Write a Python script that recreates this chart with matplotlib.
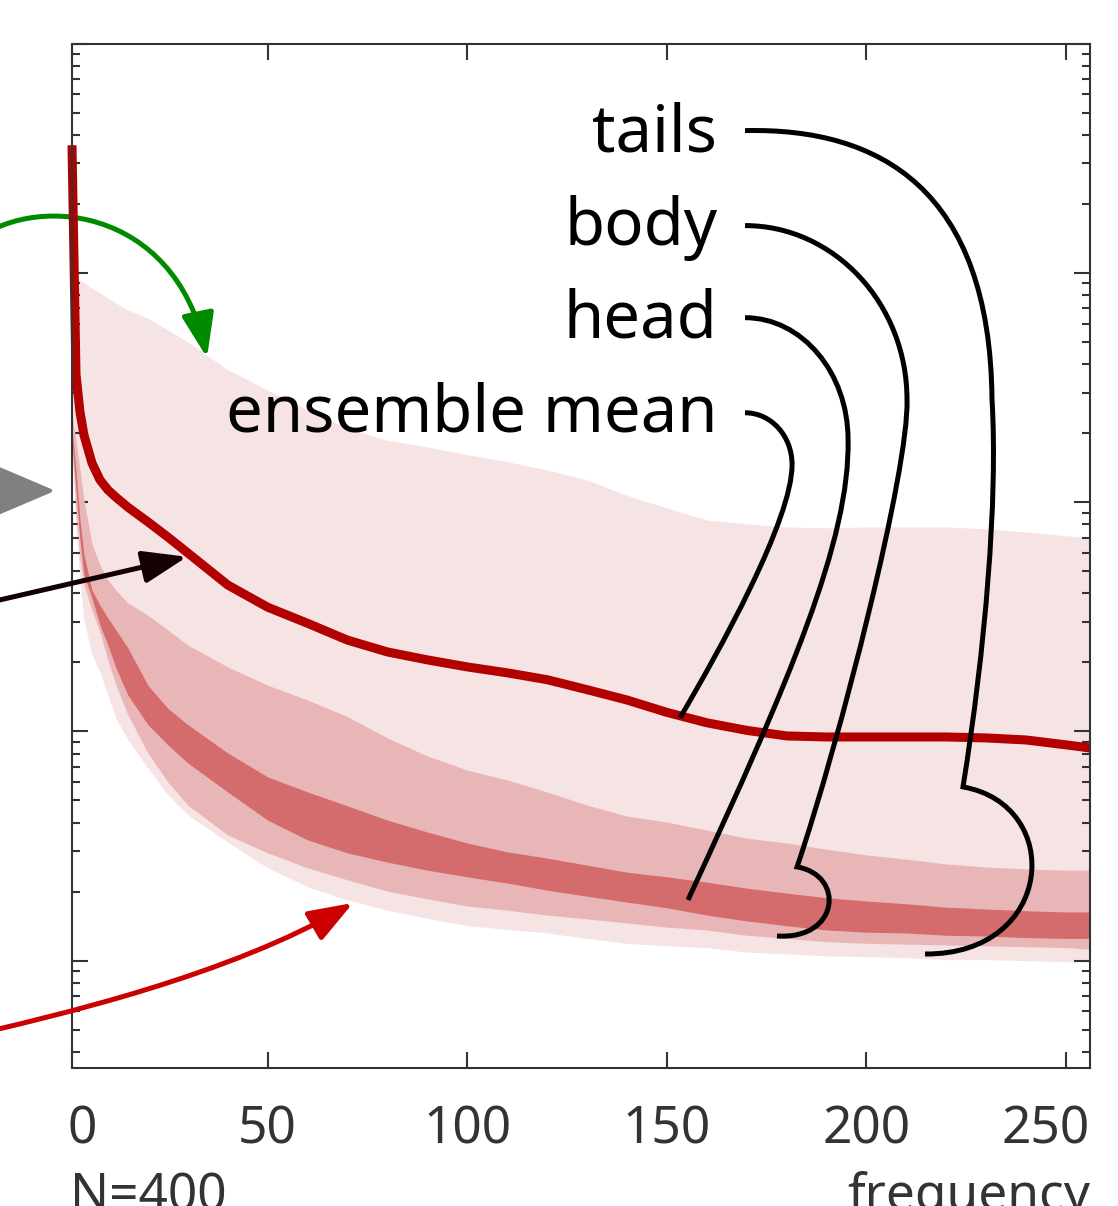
import numpy as np
import matplotlib
matplotlib.use("Agg")
import matplotlib.pyplot as plt
import matplotlib.transforms as mtransforms
from matplotlib.path import Path
from matplotlib.patches import FancyArrowPatch, PathPatch, Polygon
from matplotlib.ticker import LogLocator, NullFormatter, FixedLocator

plt.rcParams['font.family'] = ['Noto Sans', 'DejaVu Sans']

# ensemble spectra, N=400 members
freq = [1, 2, 3, 4, 6, 8, 10, 12, 15, 20, 25, 30, 40, 50, 60, 70, 80, 90, 100,
        110, 120, 130, 140, 150, 160, 170, 180, 190, 200, 210, 220, 230, 240,
        250, 256]
ens_mean = [3600, 360, 247, 196, 148, 125, 113, 105, 95, 82, 70.4, 60.0, 43.5,
            34.8, 29.6, 25.0, 22.2, 20.5, 19.1, 18.0, 16.8, 15.2, 13.7, 12.1,
            10.9, 10.1, 9.55, 9.45, 9.45, 9.45, 9.45, 9.36, 9.17, 8.73, 8.46]
tails_hi = [1000, 968, 930, 903, 858, 816, 776, 738, 688, 635, 563, 499, 378,
            308, 252, 210, 186, 174, 161, 150, 138, 125, 107, 94.2, 83.5, 80.3,
            77.9, 77.2, 77.9, 77.9, 77.9, 76.4, 74.1, 71.3, 69.9]
body_hi = [240, 186, 138, 102, 65.6, 53.2, 45.7, 41.3, 36.3, 32.1, 27.7, 23.8,
           19.1, 15.9, 13.7, 11.6, 9.36, 7.81, 6.78, 6.14, 5.44, 4.77, 4.27,
           4.02, 3.71, 3.42, 3.26, 3.06, 2.89, 2.77, 2.64, 2.56, 2.51, 2.48, 2.48]
head_hi = [206, 138, 83.5, 58.8, 41.3, 35.5, 31.2, 27.7, 23.1, 15.9, 12.6,
           10.7, 8.05, 6.33, 5.44, 4.73, 4.10, 3.64, 3.26, 2.98, 2.80, 2.61,
           2.43, 2.32, 2.20, 2.07, 1.97, 1.88, 1.82, 1.77, 1.71, 1.68, 1.65,
           1.63, 1.63]
head_lo = [186, 113, 68.3, 48.1, 38.2, 29.1, 23.8, 18.9, 14.4, 10.7, 8.73,
           7.28, 5.44, 4.10, 3.36, 2.95, 2.69, 2.48, 2.32, 2.18, 2.03, 1.91,
           1.80, 1.70, 1.58, 1.49, 1.42, 1.36, 1.33, 1.32, 1.29, 1.28, 1.26,
           1.25, 1.25]
body_lo = [177, 92.4, 56.0, 43.5, 33.8, 27.1, 20.5, 15.9, 11.8, 8.05, 6.01,
           4.77, 3.53, 2.95, 2.54, 2.25, 2.01, 1.86, 1.73, 1.66, 1.58, 1.52,
           1.46, 1.40, 1.36, 1.29, 1.25, 1.21, 1.19, 1.18, 1.17, 1.16, 1.15,
           1.14, 1.12]
tails_lo = [169, 75.6, 45.7, 30.6, 21.5, 18.1, 14.4, 11.4, 9.17, 6.92, 5.28,
            4.32, 3.29, 2.54, 2.10, 1.84, 1.66, 1.53, 1.42, 1.37, 1.32, 1.25,
            1.19, 1.16, 1.14, 1.09, 1.07, 1.05, 1.04, 1.03, 1.01, 1.01, 1.00,
            0.99, 0.99]

xtick_vals = [1, 50, 100, 150, 200, 250]
xtick_text = ['0', '50', '100', '150', '200', '250']
labels = ['tails', 'body', 'head', 'ensemble mean']

C_TAILS = '#f6e3e4'
C_BODY = '#e9b6b7'
C_HEAD = '#d46b6c'
C_MEAN = '#b30000'
AXCOL = '#333333'

fig = plt.figure(figsize=(11.18, 12.06), dpi=100)
ax = fig.add_axes([0.0644, 0.1144, 0.9106, 0.8495])

ax.fill_between(freq, tails_lo, tails_hi, color=C_TAILS, lw=0, zorder=1)
ax.fill_between(freq, body_lo, body_hi, color=C_BODY, lw=0, zorder=2)
ax.fill_between(freq, head_lo, head_hi, color=C_HEAD, lw=0, zorder=3)
ax.plot(freq, ens_mean, color=C_MEAN, lw=6.5, solid_capstyle='butt',
        solid_joinstyle='round', clip_on=False, zorder=5)

ax.set_yscale('log')
ax.set_xlim(1, 256)
ax.set_ylim(0.34, 1e4)

ax.yaxis.set_major_locator(LogLocator(base=10, numticks=12))
ax.yaxis.set_minor_locator(LogLocator(base=10, subs=np.arange(2, 10),
                                      numticks=12))
ax.yaxis.set_major_formatter(NullFormatter())
ax.yaxis.set_minor_formatter(NullFormatter())
ax.xaxis.set_major_locator(FixedLocator(xtick_vals))
ax.set_xticklabels(xtick_text)

ax.tick_params(which='both', direction='in', top=True, right=True,
               color=AXCOL, width=1.5)
ax.tick_params(which='major', length=11.5)
ax.tick_params(which='minor', length=5.8)
ax.tick_params(axis='x', labelsize=37, labelcolor=AXCOL, pad=26)
for s in ax.spines.values():
    s.set_color(AXCOL)
    s.set_linewidth(1.5)
    s.set_zorder(6)

xl = ax.get_xticklabels()
xl[0].set_ha('left')
xl[0].set_transform(xl[0].get_transform() +
                    mtransforms.ScaledTranslation(-0.04, 0, fig.dpi_scale_trans))
xl[-1].set_ha('right')
xl[-1].set_transform(xl[-1].get_transform() +
                     mtransforms.ScaledTranslation(0.24, 0, fig.dpi_scale_trans))

ax.text(-0.002, -0.1387, 'N=400', transform=ax.transAxes, ha='left',
        va='baseline', fontsize=37, color=AXCOL)
ax.text(1.0, -0.1387, 'frequency', transform=ax.transAxes, ha='right',
        va='baseline', fontsize=37, color=AXCOL)

# labels on the right, with connectors to the bands
label_y = [0.8945, 0.8037, 0.7129, 0.6211]
for lab, yy in zip(labels, label_y):
    ax.text(0.6336, yy, lab, transform=ax.transAxes, ha='right',
            va='baseline', fontsize=47, color='black', zorder=8)

C4 = Path.CURVE4
connectors = [
    [(0.6611, 0.9150), (0.7937, 0.9180), (0.9018, 0.8574), (0.9037, 0.6523),
     (0.9096, 0.5547), (0.8969, 0.4082), (0.8752, 0.2744),
     (0.9754, 0.2568), (0.9656, 0.1104), (0.8379, 0.1113)],
    [(0.6611, 0.8223), (0.7485, 0.8223), (0.8202, 0.7461), (0.8202, 0.6523),
     (0.8222, 0.5840), (0.7544, 0.3203), (0.7122, 0.1963),
     (0.7593, 0.1885), (0.7544, 0.1250), (0.6925, 0.1289)],
    [(0.6611, 0.7324), (0.7171, 0.7324), (0.7623, 0.6787), (0.7623, 0.6133),
     (0.7642, 0.5156), (0.7053, 0.3789), (0.6051, 0.1641)],
    [(0.6611, 0.6396), (0.6866, 0.6396), (0.7073, 0.6172), (0.7073, 0.5889),
     (0.7073, 0.5352), (0.6365, 0.4082), (0.5972, 0.3418)],
]
for pts in connectors:
    codes = [Path.MOVETO] + [C4] * (len(pts) - 1)
    ax.add_patch(PathPatch(Path(pts, codes), facecolor='none',
                           edgecolor='black', lw=3.6, capstyle='butt',
                           transform=ax.transAxes, zorder=7))

# arrows coming in from the left panel
head = '-|>,head_length=0.6,head_width=0.22'
green = Path([(-0.1002, 0.8037), (-0.0411, 0.8555), (0.1012, 0.8428),
              (0.1326, 0.6934)], [Path.MOVETO, C4, C4, C4])
ax.add_patch(FancyArrowPatch(path=green, arrowstyle=head, mutation_scale=45,
                             color='#008a00', lw=3.6, transform=ax.transAxes,
                             clip_on=False, zorder=4))
red = Path([(-0.1100, 0.0293), (-0.0118, 0.0518), (0.1552, 0.0908),
            (0.2760, 0.1611)], [Path.MOVETO, C4, C4, C4])
ax.add_patch(FancyArrowPatch(path=red, arrowstyle=head, mutation_scale=45,
                             color='#cc0000', lw=3.6, transform=ax.transAxes,
                             clip_on=False, zorder=7))
ax.add_patch(FancyArrowPatch((-0.1002, 0.4502), (0.1130, 0.4990),
                             arrowstyle=head, mutation_scale=45,
                             color='#140000', lw=3.6, shrinkA=0, shrinkB=0,
                             transform=ax.transAxes, clip_on=False, zorder=7))
ax.add_patch(Polygon([(-0.1002, 0.5967), (-0.0216, 0.5635), (-0.1002, 0.5303)],
                     closed=True, facecolor='#808080', edgecolor='#808080',
                     lw=3, joinstyle='round', transform=ax.transAxes,
                     clip_on=False, zorder=7))

fig.savefig('out.png', dpi=100)
